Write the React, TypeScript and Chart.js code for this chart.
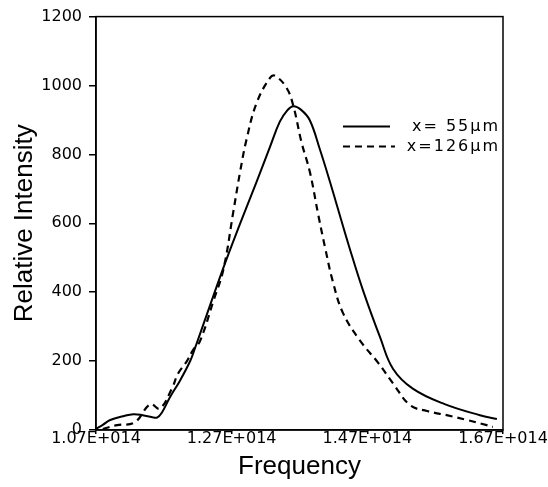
import React, { useEffect, useRef } from 'react';
import { Chart, registerables } from 'chart.js';

Chart.register(...registerables);

// Frequency in units of 1E+014 Hz
const freq55 = [1.07, 1.08, 1.091, 1.11, 1.125, 1.139, 1.153, 1.16, 1.167, 1.179, 1.194, 1.209, 1.216, 1.2576, 1.282, 1.307, 1.3265, 1.341, 1.352, 1.361, 1.372, 1.385, 1.4, 1.415, 1.425, 1.444, 1.464, 1.489, 1.508, 1.537, 1.584, 1.636, 1.661];
const int55 = [3, 15, 29, 40, 46, 43, 37, 36, 50, 95, 144, 201, 238, 470, 597, 722, 822, 895, 928, 940, 930, 900, 815, 720, 653, 527, 403, 268, 177, 120, 75, 43, 32];

const freq126 = [1.08, 1.101, 1.127, 1.15, 1.164, 1.182, 1.191, 1.204, 1.213, 1.2233, 1.243, 1.2577, 1.2724, 1.2823, 1.292, 1.3069, 1.3265, 1.334, 1.351, 1.361, 1.373, 1.3854, 1.3977, 1.408, 1.419, 1.434, 1.459, 1.486, 1.508, 1.533, 1.558, 1.587, 1.617, 1.646, 1.655];
const int126 = [3, 14, 22, 75, 62, 121, 164, 200, 232, 258, 374, 465, 633, 748, 844, 950, 1022, 1028, 993, 940, 835, 748, 624, 527, 432, 340, 260, 195, 135, 72, 55, 43, 29, 14, 9];

const seriesLabels = ['x= 55\u03bcm', 'x=126\u03bcm'];
const xTickValues = [1.07, 1.27, 1.47, 1.67];
const xTickLabels = ['1.07E+014', '1.27E+014', '1.47E+014', '1.67E+014'];
const yTickValues = [0, 200, 400, 600, 800, 1000, 1200];
const yTickLabels = ['0', '200', '400', '600', '800', '1000', '1200'];

const framePlugin = {
  id: 'frameLegend',
  afterDraw(chart: any) {
    const { ctx, chartArea: a } = chart;
    ctx.save();
    ctx.strokeStyle = '#000';
    ctx.lineWidth = 1.5;
    ctx.strokeRect(a.left, a.top, a.right - a.left, a.bottom - a.top);
    ctx.font = '16px "DejaVu Sans"';
    ctx.fillStyle = '#000';
    ctx.textAlign = 'right';
    ctx.textBaseline = 'middle';
    chart.data.datasets.forEach((ds: any, i: number) => {
      const y = a.top + 110 + i * 20;
      ctx.setLineDash(ds.borderDash || []);
      ctx.lineWidth = 2;
      ctx.beginPath();
      ctx.moveTo(a.left + 247, y);
      ctx.lineTo(a.left + (i === 0 ? 294 : 299), y);
      ctx.stroke();
      ctx.setLineDash([]);
      (ctx as any).letterSpacing = '2px';
      ctx.fillText(ds.label, a.right - 3, y);
      (ctx as any).letterSpacing = '0px';
    });
    ctx.restore();
  },
};

export default function App() {
  const ref = useRef<HTMLCanvasElement>(null);
  useEffect(() => {
    if (!ref.current) return;
    const chart = new Chart(ref.current, {
      type: 'line',
      data: {
        datasets: [
          {
            label: seriesLabels[0],
            data: freq55.map((f, i) => ({ x: f, y: int55[i] })),
            borderColor: '#000',
            borderWidth: 2,
            pointRadius: 0,
            fill: false,
            tension: 0.4,
          },
          {
            label: seriesLabels[1],
            data: freq126.map((f, i) => ({ x: f, y: int126[i] })),
            borderColor: '#000',
            borderWidth: 2.2,
            borderDash: [7, 5],
            pointRadius: 0,
            fill: false,
            tension: 0.4,
          },
        ],
      },
      options: {
        animation: false,
        responsive: true,
        maintainAspectRatio: false,
        layout: { padding: { left: 0, top: 13, right: 45, bottom: 0 } },
        plugins: { legend: { display: false }, tooltip: { enabled: false } },
        scales: {
          x: {
            type: 'linear',
            min: 1.07,
            max: 1.67,
            afterBuildTicks: (s: any) => {
              s.ticks = xTickValues.map((v) => ({ value: v }));
            },
            afterFit: (s: any) => {
              s.height = 57;
            },
            ticks: {
              color: '#000',
              font: { family: '"DejaVu Sans"', size: 16, lineHeight: 1 },
              padding: -3,
              maxRotation: 0,
              autoSkip: false,
              callback: (_v: any, i: number) => xTickLabels[i],
            },
            grid: { drawOnChartArea: false, drawTicks: true, tickLength: 4, color: '#000', lineWidth: 1.5 },
            border: { display: true, color: '#000', width: 1.5 },
            title: {
              display: true,
              text: 'Frequency',
              color: '#000',
              font: { family: '"Liberation Sans", Arial', size: 26 },
              padding: { top: 0, bottom: 5 },
            },
          },
          y: {
            type: 'linear',
            min: 0,
            max: 1200,
            afterBuildTicks: (s: any) => {
              s.ticks = yTickValues.map((v) => ({ value: v }));
            },
            afterFit: (s: any) => {
              s.width = 96;
            },
            ticks: {
              color: '#000',
              font: { family: '"DejaVu Sans"', size: 16 },
              padding: 7,
              autoSkip: false,
              callback: (_v: any, i: number) => yTickLabels[i],
            },
            grid: { drawOnChartArea: false, drawTicks: true, tickLength: 7, color: '#000', lineWidth: 1.5 },
            border: { display: true, color: '#000', width: 1.5 },
            title: {
              display: true,
              text: 'Relative Intensity',
              color: '#000',
              font: { family: '"Liberation Sans", Arial', size: 26 },
              padding: { top: 9, bottom: 0 },
            },
          },
        },
      } as any,
      plugins: [framePlugin],
    });
    return () => chart.destroy();
  }, []);
  return (
    <div style={{ position: 'absolute', left: 0, top: 0, width: 548, height: 487, background: '#fff' }}>
      <canvas ref={ref} />
    </div>
  );
}
